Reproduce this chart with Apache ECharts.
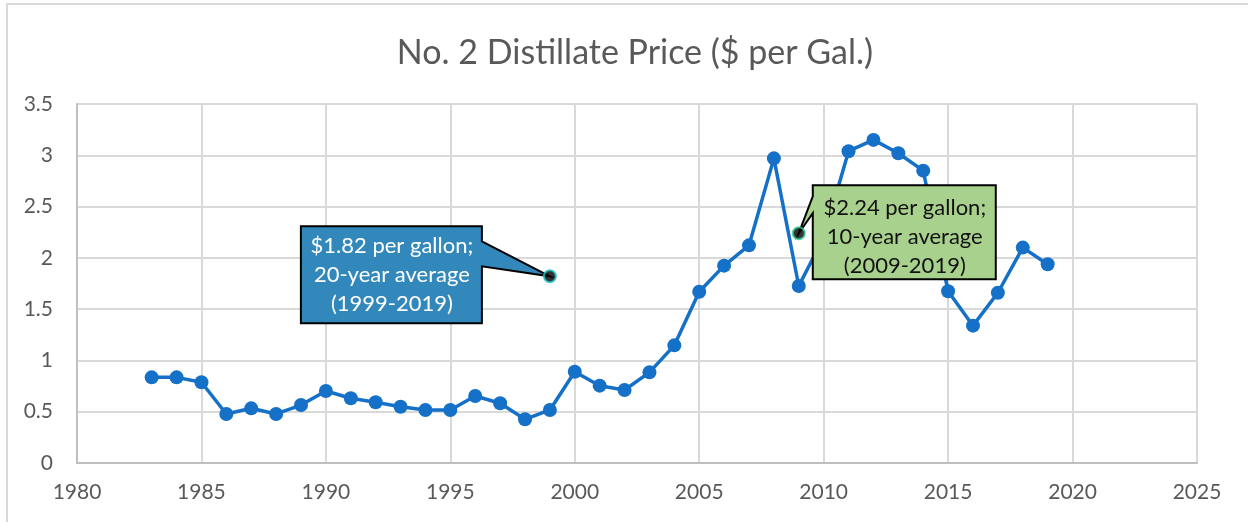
<!DOCTYPE html>
<html>
<head>
<meta charset="utf-8">
<script src="https://cdn.jsdelivr.net/npm/echarts@6/dist/echarts.min.js"></script>
<style>
  html, body { margin: 0; padding: 0; background: #ffffff; }
  #chart { width: 1248px; height: 522px; }
</style>
</head>
<body>
<div id="chart"></div>
<script>
// ---- data ----
const titleText = 'No. 2 Distillate Price ($ per Gal.)';
const years = [1983, 1984, 1985, 1986, 1987, 1988, 1989, 1990, 1991, 1992, 1993, 1994, 1995, 1996, 1997, 1998, 1999,
  2000, 2001, 2002, 2003, 2004, 2005, 2006, 2007, 2008, 2009, 2010, 2011, 2012, 2013, 2014, 2015, 2016, 2017, 2018, 2019];
const prices = [0.835, 0.835, 0.787, 0.478, 0.533, 0.478, 0.565, 0.702, 0.631, 0.592, 0.549, 0.517, 0.517, 0.653, 0.582, 0.426, 0.517,
  0.89, 0.754, 0.712, 0.884, 1.147, 1.67, 1.924, 2.122, 2.97, 1.726, 2.2, 3.04, 3.15, 3.02, 2.85, 1.674, 1.339, 1.66, 2.10, 1.937];
const xTicks = [1980, 1985, 1990, 1995, 2000, 2005, 2010, 2015, 2020, 2025];
const yTicks = [0, 0.5, 1, 1.5, 2, 2.5, 3, 3.5];
const avgYears = [1999, 2009];
const avgValues = [1.82, 2.24];
const avgLabels = [
  '$1.82 per gallon;\n20-year average\n(1999-2019)',
  '$2.24 per gallon;\n10-year average\n(2009-2019)'
];

const FONT = 'Lato, "Open Sans", sans-serif';
const chart = echarts.init(document.getElementById('chart'), null, { renderer: 'canvas' });

const lineData = years.map((y, i) => [y, prices[i]]);
const avgData = avgYears.map((y, i) => ({
  value: [y, avgValues[i]],
  itemStyle: { color: '#000000', borderColor: i === 0 ? '#1EC8C8' : '#2CC990', borderWidth: 2 }
}));

chart.setOption({
  animation: false,
  backgroundColor: '#ffffff',
  title: {
    text: titleText,
    left: 630,
    textAlign: 'center',
    top: 31,
    textStyle: { fontFamily: FONT, fontSize: 34, fontWeight: 'normal', color: '#595959' }
  },
  grid: { left: 77, right: 51, top: 104, bottom: 59, containLabel: false },
  xAxis: {
    type: 'value',
    min: xTicks[0],
    max: xTicks[xTicks.length - 1],
    interval: 5,
    axisLine: { show: true, lineStyle: { color: '#BFBFBF', width: 2 } },
    axisTick: { show: false },
    splitLine: { show: true, lineStyle: { color: '#D9D9D9', width: 2 } },
    axisLabel: {
      margin: 19,
      color: '#595959', fontFamily: FONT, fontSize: 21,
      formatter: v => (xTicks.indexOf(v) >= 0 ? String(v) : '')
    }
  },
  yAxis: {
    type: 'value',
    min: yTicks[0],
    max: yTicks[yTicks.length - 1],
    interval: 0.5,
    axisLine: { show: true, lineStyle: { color: '#BFBFBF', width: 2 } },
    axisTick: { show: false },
    splitLine: { show: true, lineStyle: { color: '#D9D9D9', width: 2 } },
    axisLabel: {
      margin: 24,
      color: '#595959', fontFamily: FONT, fontSize: 21,
      formatter: v => String(v)
    }
  },
  series: [
    {
      type: 'line',
      data: lineData,
      z: 10,
      symbol: 'circle',
      symbolSize: 14,
      lineStyle: { color: '#1570C8', width: 3.5 },
      itemStyle: { color: '#1570C8', borderWidth: 0 }
    },
    {
      type: 'scatter',
      data: avgData,
      z: 200,
      symbol: 'circle',
      symbolSize: 12
    }
  ]
});

// ---- callouts, positioned from the anchor points through the grid scale ----
const p1 = chart.convertToPixel({ gridIndex: 0 }, [avgYears[0], avgValues[0]]);
const p2 = chart.convertToPixel({ gridIndex: 0 }, [avgYears[1], avgValues[1]]);

function shift(pts, o) { return pts.map(p => [p[0] + o[0], p[1] + o[1]]); }

// blue box: left of anchor, tail on right edge
const blueShape = shift([[-249, -50], [-68, -50], [-68, -35], [0, 0], [-68, -10], [-68, 47], [-249, 47]], p1);
// green box: right of anchor, tail on left edge
const greenShape = shift([[14, -48], [197, -48], [197, 46], [14, 46], [14, -20], [0, 0], [14, -37]], p2);

chart.setOption({
  graphic: [
    {
      type: 'rect', z: -10, silent: true,
      shape: { x: 7, y: 4, width: 1300, height: 560 },
      style: { fill: 'none', stroke: '#D9D9D9', lineWidth: 2 }
    },
    {
      type: 'polygon', z: 100, silent: true,
      shape: { points: blueShape },
      style: { fill: '#3388BB', stroke: '#000000', lineWidth: 2 }
    },
    {
      type: 'text', z: 101, silent: true,
      x: p1[0] - 158, y: p1[1] - 1,
      style: {
        text: avgLabels[0], fill: '#ffffff', fontFamily: FONT, fontSize: 22,
        lineHeight: 29, align: 'center', verticalAlign: 'middle'
      }
    },
    {
      type: 'polygon', z: 100, silent: true,
      shape: { points: greenShape },
      style: { fill: '#A9D18E', stroke: '#000000', lineWidth: 2 }
    },
    {
      type: 'text', z: 101, silent: true,
      x: p2[0] + 106, y: p2[1] + 4,
      style: {
        text: avgLabels[1], fill: '#111111', fontFamily: FONT, fontSize: 22,
        lineHeight: 29, align: 'center', verticalAlign: 'middle'
      }
    }
  ]
});
</script>
</body>
</html>
